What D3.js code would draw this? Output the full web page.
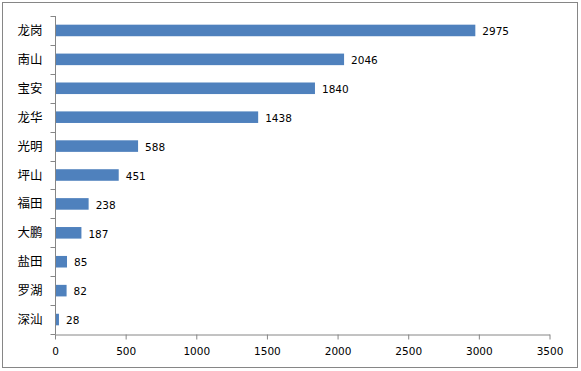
<!DOCTYPE html>
<html lang="zh">
<head>
<meta charset="UTF-8">
<title>深圳各区</title>
<script src="https://d3js.org/d3.v7.min.js"></script>
<style>
  body { margin: 0; background: #fff; }
</style>
</head>
<body>
<svg id="chart"></svg>
<script>
const districts = ["龙岗", "南山", "宝安", "龙华", "光明", "坪山", "福田", "大鹏", "盐田", "罗湖", "深汕"];
const counts = [2975, 2046, 1840, 1438, 588, 451, 238, 187, 85, 82, 28];
const xTicks = [0, 500, 1000, 1500, 2000, 2500, 3000, 3500];

const width = 581, height = 371;
const svg = d3.select("#chart").attr("width", width).attr("height", height);

// outer frame
svg.append("rect")
  .attr("x", 2.5).attr("y", 2.5)
  .attr("width", 575).attr("height", 365)
  .attr("fill", "#fff").attr("stroke", "#868686");

const x = d3.scaleLinear().domain([0, 3500]).range([55, 549.5]);
const y = d3.scaleBand().domain(districts).range([16, 334]).paddingInner(0.6).paddingOuter(0.3);

// bars
svg.append("g")
  .selectAll("rect")
  .data(districts)
  .join("rect")
  .attr("x", x(0))
  .attr("y", d => y(d))
  .attr("width", (d, i) => x(counts[i]) - x(0))
  .attr("height", y.bandwidth())
  .attr("fill", "#4f81bd");

// value labels
svg.append("g")
  .selectAll("text")
  .data(districts)
  .join("text")
  .attr("x", (d, i) => x(counts[i]) + 7)
  .attr("y", d => y(d) + y.bandwidth() / 2)
  .attr("dy", "0.45em")
  .attr("font-family", "DejaVu Sans, sans-serif")
  .attr("font-size", "10.5px")
  .attr("fill", "#000")
  .text((d, i) => counts[i]);

// x axis
const xAxis = svg.append("g")
  .attr("transform", "translate(0,334.5)")
  .call(d3.axisBottom(x).tickValues(xTicks).tickFormat(d3.format("d"))
    .tickSize(5).tickSizeOuter(0).tickPadding(8));
xAxis.select(".domain").attr("stroke", "#868686");
xAxis.selectAll(".tick line").attr("stroke", "#868686");
xAxis.selectAll("text")
  .attr("font-family", "DejaVu Sans, sans-serif")
  .attr("font-size", "10.5px")
  .attr("fill", "#000");

// y axis with ticks between categories
const yAxis = svg.append("g").attr("transform", "translate(55.5,0)");
yAxis.append("line")
  .attr("x1", 0).attr("x2", 0)
  .attr("y1", 16).attr("y2", 334.5)
  .attr("stroke", "#868686");
yAxis.selectAll("line.tk")
  .data(d3.range(districts.length + 1))
  .join("line")
  .attr("class", "tk")
  .attr("x1", -5).attr("x2", 0)
  .attr("y1", i => Math.round(16 + i * (318 / districts.length)) + 0.5)
  .attr("y2", i => Math.round(16 + i * (318 / districts.length)) + 0.5)
  .attr("stroke", "#868686");
yAxis.selectAll("text")
  .data(districts)
  .join("text")
  .attr("x", -13)
  .attr("y", d => y(d) + y.bandwidth() / 2)
  .attr("dy", "0.36em")
  .attr("text-anchor", "end")
  .attr("font-family", "Noto Sans CJK SC, sans-serif")
  .attr("font-size", "12.5px")
  .attr("fill", "#000")
  .text(d => d);
</script>
</body>
</html>
